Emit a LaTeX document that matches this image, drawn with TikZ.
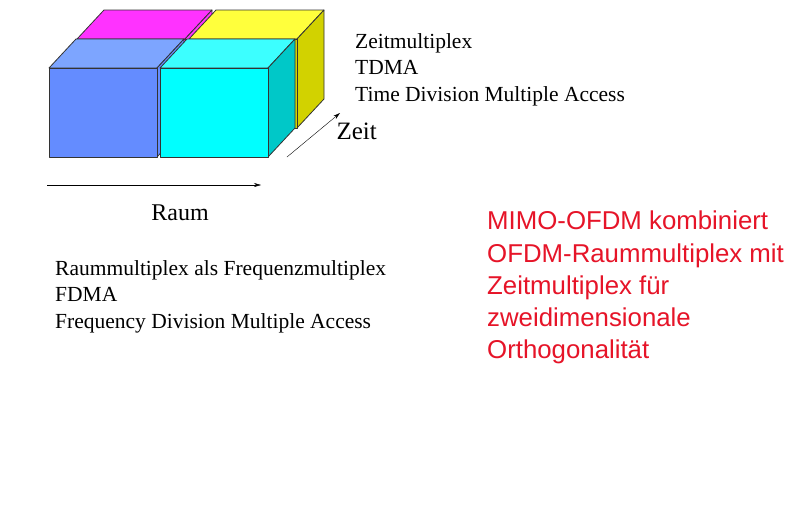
\documentclass[tikz,border=0pt]{standalone}
\usepackage{fontspec}
\setmainfont{Liberation Serif}
\newfontfamily\arial{Liberation Sans}
\definecolor{cyf}{RGB}{0,255,255}
\definecolor{cyt}{RGB}{60,255,255}
\definecolor{cys}{RGB}{0,200,200}
\definecolor{mgt}{RGB}{255,50,255}
\definecolor{ylt}{RGB}{255,255,60}
\definecolor{yls}{RGB}{210,210,0}
\definecolor{blf}{RGB}{100,140,255}
\definecolor{blt}{RGB}{125,165,255}
\definecolor{redt}{RGB}{230,20,40}
\usetikzlibrary{arrows.meta}
\begin{document}
\begin{tikzpicture}[x=1pt,y=-1pt,line join=round,
  fc/.style={draw=black!80,line width=0.8pt},
  arr/.style={-{Stealth[length=7pt,width=4pt]}},
  lbl/.style={anchor=north west,inner sep=0pt,font=\fontsize{21.5}{26.5}\selectfont,align=left}]
\useasboundingbox[fill=white] (0,0) rectangle (800,504);
\tikzset{pics/cube/.style n args={3}{code={
  \fill[fc,fill=#2] (0,0)--(27,-29)--(135,-29)--(108,0)--cycle;
  \fill[fc,fill=#3] (108,0)--(135,-29)--(135,60)--(108,89)--cycle;
  \fill[fc,fill=#1] (0,0) rectangle (108,89);
}}}
\pic at (77,39) {cube={mgt}{mgt}{mgt}};
\pic at (189,39) {cube={yls}{ylt}{yls}};
\pic at (49,68) {cube={blf}{blt}{blf}};
\pic at (160,68) {cube={cyf}{cyt}{cys}};
\coordinate (z0) at (287,157); \coordinate (z1) at (340,113);
\draw[arr] (z0)--(z1);
\coordinate (r0) at (47,185); \coordinate (r1) at (261,185);
\draw[arr] (r0)--(r1);
\node[anchor=west,font=\fontsize{25}{28}\selectfont] (zeit) at (333,131) {Zeit};
\node[font=\fontsize{24}{26}\selectfont] (raum) at (180,213) {Raum};
\node[lbl] (tdma) at (355,33) {Zeitmultiplex\\TDMA\\Time Division Multiple Access};
\node[lbl] (fdma) at (55,260) {Raummultiplex als Frequenzmultiplex\\FDMA\\Frequency Division Multiple Access};
\node[anchor=north west,inner sep=0pt,align=left,text=redt,
  font=\arial\fontsize{25.8}{32.2}\selectfont] (mimo) at (487,211)
  {MIMO-OFDM kombiniert\\OFDM-Raummultiplex mit\\Zeitmultiplex für\\zweidimensionale\\Orthogonalität};
\end{tikzpicture}
\end{document}
